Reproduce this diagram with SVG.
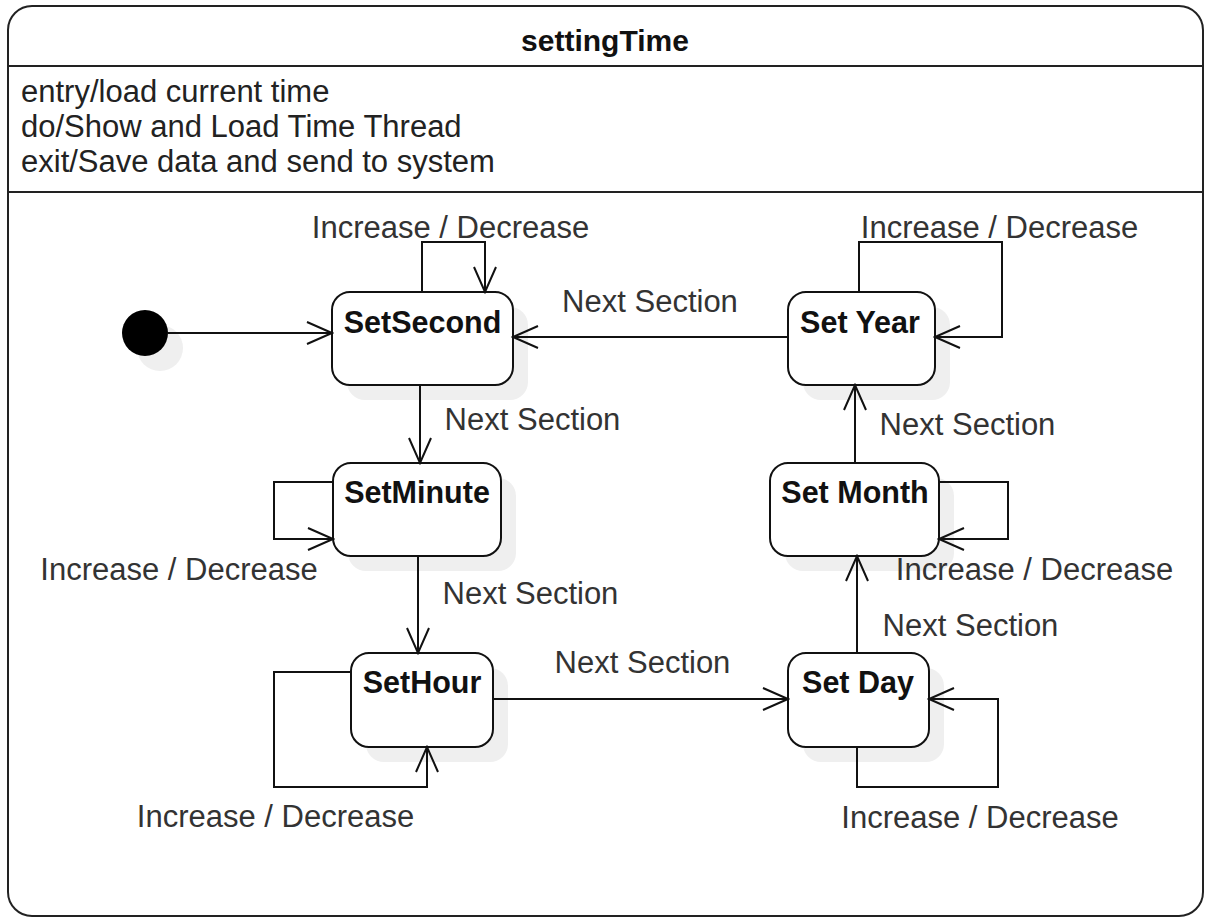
<svg xmlns="http://www.w3.org/2000/svg" width="1205" height="918" viewBox="0 0 1205 918">
<defs>
<marker id="open" markerUnits="userSpaceOnUse" markerWidth="28" markerHeight="26" viewBox="0 0 28 26" refX="26" refY="13" orient="auto"><path d="M1,2 L26,13 L1,24" fill="none" stroke="#111" stroke-width="2"/></marker>
</defs>
<style>
.frame{fill:#fff;stroke:#222;stroke-width:2}
.sep{stroke:#222;stroke-width:2}
.node{fill:#fff;stroke:#111;stroke-width:2}
.shadow{fill:#efefef}
.edge{fill:none;stroke:#111;stroke-width:2;marker-end:url(#open)}
.nl{font-family:"Liberation Sans",Arial,sans-serif;font-weight:bold;font-size:30.5px;fill:#111;text-anchor:middle}
.el{font-family:"Liberation Sans",Arial,sans-serif;font-size:31px;fill:#333;text-anchor:middle}
.tx{font-family:"Liberation Sans",Arial,sans-serif;font-size:31px;fill:#222}
</style>
<rect x="0" y="0" width="1205" height="918" fill="#fff"/>
<g id="settingTime">
<rect class="frame" x="8" y="6" width="1195" height="910" rx="24"/>
<line class="sep" x1="8" y1="66" x2="1203" y2="66"/>
<line class="sep" x1="8" y1="192" x2="1203" y2="192"/>
<text class="nl" x="605" y="51" style="font-size:30px">settingTime</text>
<text class="tx" x="21" y="102">entry/load current time</text>
<text class="tx" x="21" y="137">do/Show and Load Time Thread</text>
<text class="tx" x="21" y="172">exit/Save data and send to system</text>
</g>
<g id="initial">
<circle class="shadow" cx="160" cy="348" r="23"/>
<circle cx="145" cy="333" r="23" fill="#000"/>
</g>
<g id="SetSecond">
<rect class="shadow" x="347" y="307" width="181" height="93" rx="18"/>
<rect class="node" x="332" y="292" width="181" height="93" rx="18"/>
<text class="nl" x="422.5" y="333">SetSecond</text>
</g>
<g id="SetMinute">
<rect class="shadow" x="348" y="478" width="168" height="93" rx="18"/>
<rect class="node" x="333" y="463" width="168" height="93" rx="18"/>
<text class="nl" x="417" y="503">SetMinute</text>
</g>
<g id="SetHour">
<rect class="shadow" x="366" y="668" width="142" height="94" rx="18"/>
<rect class="node" x="351" y="653" width="142" height="94" rx="18"/>
<text class="nl" x="422" y="693">SetHour</text>
</g>
<g id="SetYear">
<rect class="shadow" x="803" y="307" width="147" height="93" rx="18"/>
<rect class="node" x="788" y="292" width="147" height="93" rx="18"/>
<text class="nl" x="860" y="333">Set Year</text>
</g>
<g id="SetMonth">
<rect class="shadow" x="785" y="478" width="169" height="93" rx="18"/>
<rect class="node" x="770" y="463" width="169" height="93" rx="18"/>
<text class="nl" x="855" y="503">Set Month</text>
</g>
<g id="SetDay">
<rect class="shadow" x="803" y="668" width="141" height="94" rx="18"/>
<rect class="node" x="788" y="653" width="141" height="94" rx="18"/>
<text class="nl" x="858" y="693">Set Day</text>
</g>
<g id="connectors">
<path class="edge" d="M168,333 H332"/>
<path class="edge" d="M422,292 V242 H485 V292"/>
<path class="edge" d="M788,337 H513"/>
<path class="edge" d="M859,292 V242 H1002 V337 H935"/>
<path class="edge" d="M420,385 V463"/>
<path class="edge" d="M333,482 H274 V539 H333"/>
<path class="edge" d="M418,556 V653"/>
<path class="edge" d="M351,672 H274 V787 H427 V747"/>
<path class="edge" d="M493,699 H788"/>
<path class="edge" d="M857,747 V787 H998 V699 H929"/>
<path class="edge" d="M857,653 V556"/>
<path class="edge" d="M939,482 H1008 V539 H939"/>
<path class="edge" d="M855,463 V385"/>
<text class="el" x="450.5" y="238">Increase / Decrease</text>
<text class="el" x="650" y="312">Next Section</text>
<text class="el" x="999.5" y="238">Increase / Decrease</text>
<text class="el" x="532.5" y="430">Next Section</text>
<text class="el" x="967.5" y="435">Next Section</text>
<text class="el" x="179" y="580">Increase / Decrease</text>
<text class="el" x="1034.5" y="580">Increase / Decrease</text>
<text class="el" x="530.5" y="604">Next Section</text>
<text class="el" x="970.5" y="636">Next Section</text>
<text class="el" x="642.5" y="673">Next Section</text>
<text class="el" x="275.5" y="827">Increase / Decrease</text>
<text class="el" x="980" y="828">Increase / Decrease</text>
</g>
</svg>
